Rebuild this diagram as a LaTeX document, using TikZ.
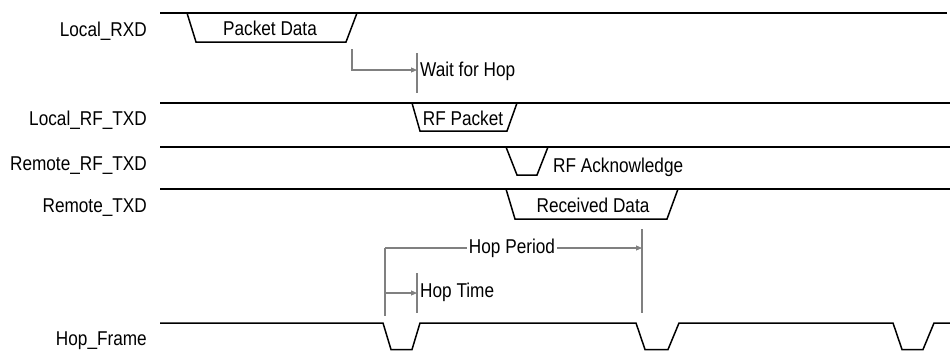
\documentclass[tikz,border=0pt]{standalone}
\usepackage{fontspec}
\setmainfont{Liberation Sans}[FakeStretch=0.86]
\usetikzlibrary{arrows.meta}
\definecolor{anncol}{RGB}{128,128,128}
\begin{document}
\begin{tikzpicture}[x=1pt,y=-1pt,
  wave/.style={line width=1.5pt, black, line join=miter},
  ann/.style={line width=1.1pt, anncol},
  tip/.style={-{Triangle[length=6pt,width=5pt]}},
  lbl/.style={font=\fontsize{20}{24}\selectfont, inner sep=0pt, text=black},
  gaplbl/.style={font=\fontsize{20}{24}\selectfont, inner sep=2pt, text=black}]
\useasboundingbox (0,0) rectangle (950,351);

% signal names
\node[lbl,anchor=base east] (nRXD)   at (147,36)  {Local\_RXD};
\node[lbl,anchor=base east] (nLRF)   at (147,125) {Local\_RF\_TXD};
\node[lbl,anchor=base east] (nRRF)   at (147,170) {Remote\_RF\_TXD};
\node[lbl,anchor=base east] (nRTXD)  at (147,212) {Remote\_TXD};
\node[lbl,anchor=base east] (nHop)   at (147,345) {Hop\_Frame};

% Local_RXD
\draw[wave] (160,13) -- (947,13);
\draw[wave] (187,13) -- (196,42) -- (346,42) -- (357,13);
\node[lbl,anchor=base] (tPD) at (270,35) {Packet Data};

% Local_RF_TXD
\draw[wave] (160,103) -- (950,103);
\draw[wave] (412,103) -- (420,131) -- (507,131) -- (517,103);
\node[lbl,anchor=base] (tRFP) at (463,125) {RF Packet};

% Remote_RF_TXD
\draw[wave] (160,147) -- (950,147);
\draw[wave] (506,147) -- (517,175) -- (537,175) -- (548,147);
\node[lbl,anchor=base west] (tRFA) at (553,172) {RF Acknowledge};

% Remote_TXD
\draw[wave] (160,189) -- (950,189);
\draw[wave] (506,189) -- (515,219) -- (667,219) -- (678,189);
\node[lbl,anchor=base] (tRD) at (593,212) {Received Data};

% Hop_Frame
\draw[wave] (160,323) -- (383,323) -- (391,349.5) -- (412,349.5) -- (420,323)
  -- (636,323) -- (645,349.5) -- (668,349.5) -- (679,323)
  -- (893,323) -- (902,349.5) -- (923,349.5) -- (934,323) -- (950,323);

% Wait for Hop
\coordinate (wA) at (352,49);
\coordinate (wB) at (352,70);
\coordinate (wT1) at (417,53);
\coordinate (wT2) at (417,93);
\draw[ann] (wT1) -- (wT2);
\draw[ann,tip] (wA) -- (wB) -- (wB -| wT1);
\node[lbl,anchor=base west] (tWait) at (420,76) {Wait for Hop};

% Hop Period
\coordinate (hpA) at (385,248);
\coordinate (hpL) at (385,316);
\coordinate (hpT1) at (642,229);
\coordinate (hpT2) at (642,313);
\draw[ann] (hpA) -- (hpL);
\draw[ann] (hpT1) -- (hpT2);
\node[gaplbl,anchor=center] (tHP) at (512,248) {Hop Period};
\draw[ann] (hpA) -- (tHP.west);
\draw[ann,tip] (tHP.east) -- (tHP.east -| hpT1);

% Hop Time
\coordinate (htA) at (385,293);
\coordinate (htT1) at (417,273);
\coordinate (htT2) at (417,313);
\draw[ann] (htT1) -- (htT2);
\draw[ann,tip] (htA) -- (htA -| htT1);
\node[lbl,anchor=base west] (tHT) at (420,297) {Hop Time};
\end{tikzpicture}
\end{document}
